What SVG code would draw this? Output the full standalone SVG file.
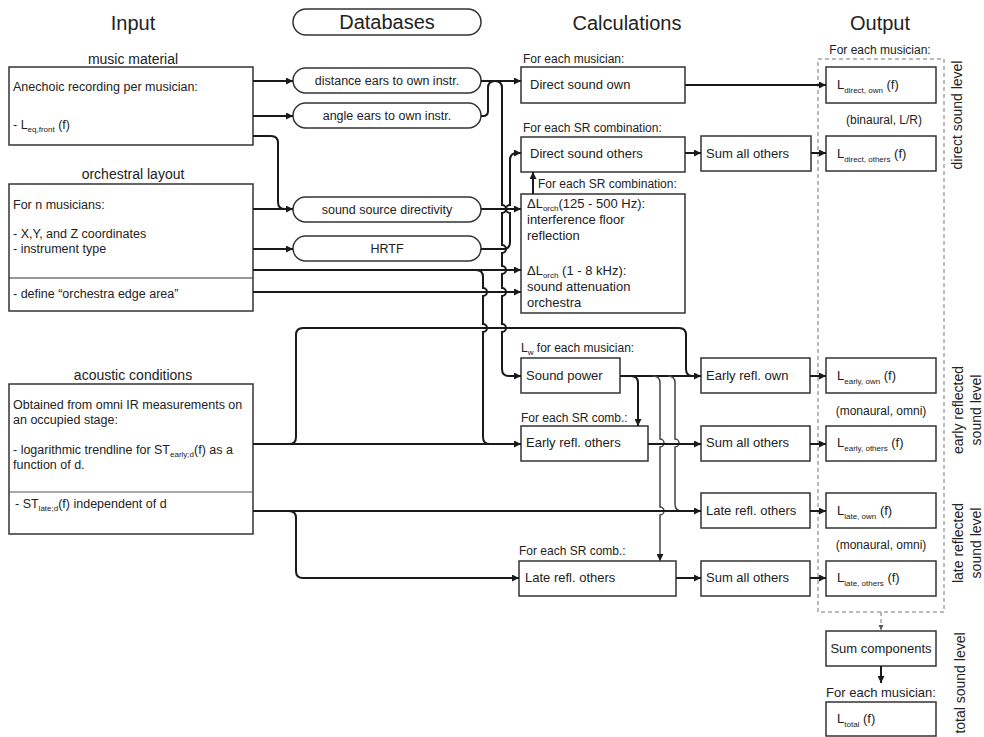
<svg xmlns="http://www.w3.org/2000/svg" width="984" height="737" viewBox="0 0 984 737">
<defs>
<marker id="ah" viewBox="0 0 10 10" refX="10" refY="5" markerWidth="7" markerHeight="7" markerUnits="userSpaceOnUse" orient="auto"><path d="M0,0L10,5L0,10z" fill="#1a1a1a"/></marker>
<marker id="ahs" viewBox="0 0 10 10" refX="10" refY="5" markerWidth="5" markerHeight="5" markerUnits="userSpaceOnUse" orient="auto"><path d="M0,0L10,5L0,10z" fill="#555"/></marker>
<style>
.t{font-family:"Liberation Sans",Arial,sans-serif;font-size:12px;fill:#222}
.ti{font-size:12.5px}
.tc{font-size:13px}
.h{font-size:20px;text-anchor:middle}
.s{font-size:14px;text-anchor:middle}
.m{text-anchor:middle}
.sub{font-size:8px}
.b{fill:#fff;stroke:#333;stroke-width:1.5}
.c{fill:none;stroke:#1a1a1a;stroke-width:2}
.g{fill:none;stroke:#444;stroke-width:1.5}
.a{marker-end:url(#ah)}
.d{fill:none;stroke:#777;stroke-width:1;stroke-dasharray:4 3}
</style>
</defs>
<rect width="984" height="737" fill="#fff"/>

<g id="headers">
<text class="t h" x="133" y="30">Input</text>
<rect x="293" y="9" width="188" height="26" rx="13" fill="#fff" stroke="#333" stroke-width="1.5"/>
<text class="t h" x="387" y="29">Databases</text>
<text class="t h" x="627" y="30">Calculations</text>
<text class="t h" x="880" y="30">Output</text>
</g>

<rect id="output-group" class="d" x="818" y="59" width="126" height="553"/>

<g id="input-music">
<text class="t s" x="133" y="64">music material</text>
<rect class="b" x="9" y="67" width="244" height="78"/>
<text class="t ti" x="13" y="91">Anechoic recording per musician:</text>
<text class="t ti" x="13" y="129">- L<tspan class="sub" dy="3">eq,front</tspan><tspan dy="-3"> (f)</tspan></text>
</g>

<g id="input-layout">
<text class="t s" x="133" y="179">orchestral layout</text>
<rect class="b" x="9" y="184" width="244" height="127"/>
<line x1="9" y1="278" x2="253" y2="278" stroke="#333" stroke-width="1.2"/>
<text class="t ti" x="13" y="209">For n musicians:</text>
<text class="t ti" x="13" y="238">- X,Y, and Z coordinates</text>
<text class="t ti" x="13" y="253">- instrument type</text>
<text class="t ti" x="13" y="298">- define “orchestra edge area”</text>
</g>

<g id="input-acoustic">
<text class="t s" x="133" y="380">acoustic conditions</text>
<rect class="b" x="9" y="384" width="244" height="150"/>
<line x1="9" y1="492" x2="253" y2="492" stroke="#555" stroke-width="1"/>
<text class="t ti" x="13" y="409">Obtained from omni IR measurements on</text>
<text class="t ti" x="13" y="424">an occupied stage:</text>
<text class="t ti" x="13" y="454">- logarithmic trendline for ST<tspan class="sub" dy="3">early;d</tspan><tspan dy="-3">(f) as a</tspan></text>
<text class="t ti" x="13" y="469">function of d.</text>
<text class="t ti" x="15" y="508">- ST<tspan class="sub" dy="3">late;d</tspan><tspan dy="-3">(f) independent of d</tspan></text>
</g>

<g id="db-distance"><rect class="b" x="293" y="68" width="188" height="25" rx="12.5"/><text class="t m" style="font-size:12.5px" x="387" y="85">distance ears to own instr.</text></g>
<g id="db-angle"><rect class="b" x="293" y="103" width="188" height="25" rx="12.5"/><text class="t m" style="font-size:12.5px" x="387" y="120">angle ears to own instr.</text></g>
<g id="db-directivity"><rect class="b" x="293" y="197" width="188" height="25" rx="12.5"/><text class="t m" style="font-size:12.5px" x="387" y="214">sound source directivity</text></g>
<g id="db-hrtf"><rect class="b" x="293" y="236" width="188" height="25" rx="12.5"/><text class="t m" style="font-size:12.5px" x="387" y="253">HRTF</text></g>

<g id="calc-direct-own">
<text class="t" x="523" y="63">For each musician:</text>
<rect class="b" x="521" y="67" width="164" height="36"/>
<text class="t tc" x="530" y="89">Direct sound own</text>
</g>
<g id="calc-direct-others">
<text class="t" x="523" y="132">For each SR combination:</text>
<rect class="b" x="521" y="137" width="164" height="35"/>
<text class="t tc" x="530" y="158">Direct sound others</text>
</g>
<g id="calc-deltaL">
<text class="t" x="538" y="188">For each SR combination:</text>
<rect class="b" x="521" y="194" width="164" height="119"/>
<text class="t tc" x="527" y="208">ΔL<tspan class="sub" dy="3">orch</tspan><tspan dy="-3">(125 - 500 Hz):</tspan></text>
<text class="t tc" x="527" y="224">interference floor</text>
<text class="t tc" x="527" y="240">reflection</text>
<text class="t tc" x="527" y="275">ΔL<tspan class="sub" dy="3">orch</tspan><tspan dy="-3"> (1 - 8 kHz):</tspan></text>
<text class="t tc" x="527" y="291">sound attenuation</text>
<text class="t tc" x="527" y="307">orchestra</text>
</g>
<g id="calc-sound-power">
<text class="t" x="521" y="352">L<tspan class="sub" dy="3">w</tspan><tspan dy="-3"> for each musician:</tspan></text>
<rect class="b" x="521" y="358" width="99" height="35"/>
<text class="t tc" x="526" y="380">Sound power</text>
</g>
<g id="calc-early-others">
<text class="t" x="521" y="422">For each SR comb.:</text>
<rect class="b" x="521" y="426" width="127" height="35"/>
<text class="t tc" x="526" y="447">Early refl. others</text>
</g>
<g id="calc-late-others">
<text class="t" x="519" y="555">For each SR comb.:</text>
<rect class="b" x="519" y="561" width="157" height="35"/>
<text class="t tc" x="525" y="582">Late refl. others</text>
</g>

<g id="sum-direct"><rect class="b" x="701" y="136" width="110" height="35"/><text class="t tc" x="706" y="158">Sum all others</text></g>
<g id="early-own"><rect class="b" x="701" y="358" width="109" height="35"/><text class="t tc" x="706" y="380">Early refl. own</text></g>
<g id="sum-early"><rect class="b" x="701" y="426" width="109" height="35"/><text class="t tc" x="706" y="447">Sum all others</text></g>
<g id="late-own"><rect class="b" x="701" y="493" width="109" height="35"/><text class="t tc" x="706" y="515">Late refl. others</text></g>
<g id="sum-late"><rect class="b" x="701" y="561" width="109" height="35"/><text class="t tc" x="706" y="582">Sum all others</text></g>

<g id="out-direct-own">
<text class="t m" x="880" y="54">For each musician:</text>
<rect class="b" x="826" y="67" width="110" height="36"/>
<text class="t tc" x="837" y="89">L<tspan class="sub" dy="4">direct, own</tspan><tspan dy="-4"> (f)</tspan></text>
</g>
<text class="t m" x="884" y="124">(binaural, L/R)</text>
<g id="out-direct-others">
<rect class="b" x="826" y="136" width="110" height="35"/>
<text class="t tc" x="837" y="158">L<tspan class="sub" dy="4">direct, others</tspan><tspan dy="-4"> (f)</tspan></text>
</g>
<g id="out-early-own">
<rect class="b" x="826" y="358" width="110" height="35"/>
<text class="t tc" x="837" y="380">L<tspan class="sub" dy="4">early, own</tspan><tspan dy="-4"> (f)</tspan></text>
</g>
<text class="t m" x="881" y="415">(monaural, omni)</text>
<g id="out-early-others">
<rect class="b" x="826" y="426" width="110" height="35"/>
<text class="t tc" x="837" y="447">L<tspan class="sub" dy="4">early, others</tspan><tspan dy="-4"> (f)</tspan></text>
</g>
<g id="out-late-own">
<rect class="b" x="826" y="493" width="110" height="35"/>
<text class="t tc" x="837" y="515">L<tspan class="sub" dy="4">late, own</tspan><tspan dy="-4"> (f)</tspan></text>
</g>
<text class="t m" x="881" y="549">(monaural, omni)</text>
<g id="out-late-others">
<rect class="b" x="826" y="561" width="110" height="35"/>
<text class="t tc" x="837" y="582">L<tspan class="sub" dy="4">late, others</tspan><tspan dy="-4"> (f)</tspan></text>
</g>
<g id="sum-components">
<rect class="b" x="826" y="631" width="110" height="35"/>
<text class="t tc m" x="881" y="653">Sum components</text>
</g>
<g id="out-total">
<text class="t tc m" x="881" y="697">For each musician:</text>
<rect class="b" x="826" y="702" width="110" height="34"/>
<text class="t tc" x="837" y="723">L<tspan class="sub" dy="4">total</tspan><tspan dy="-4"> (f)</tspan></text>
</g>

<g id="side-labels" class="t" style="font-size:14px;text-anchor:middle">
<text transform="translate(962,115) rotate(-90)">direct sound level</text>
<text transform="translate(963,410) rotate(-90)">early reflected</text>
<text transform="translate(981,410) rotate(-90)">sound level</text>
<text transform="translate(963,543) rotate(-90)">late reflected</text>
<text transform="translate(981,543) rotate(-90)">sound level</text>
<text transform="translate(965,683) rotate(-90)">total sound level</text>
</g>

<g id="connectors">
<path class="c a" d="M253,81H293"/>
<path class="c a" d="M253,116H293"/>
<path class="c" d="M253,136H271Q278,136 278,143V202Q278,209 285,209H290"/>
<path class="c a" d="M253,209H293"/>
<path class="c a" d="M253,249H293"/>
<path class="c a" d="M253,270H521"/>
<path class="c a" d="M253,292H521"/>
<path class="c a" d="M481,81H521"/>
<path class="c" d="M481,116H483Q488,116 488,111V88Q488,81 495,81"/>
<path class="c a" d="M495,81Q502,81 502,88V205a4,4 0 0 1 0,8V245a4,4 0 0 1 0,8V266a4,4 0 0 1 0,8V288a4,4 0 0 1 0,8V324a4,4 0 0 1 0,8V369Q502,376 509,376H521"/>
<path class="c a" d="M481,209H521"/>
<path class="c a" d="M481,249H503Q510,249 510,242V213a4,4 0 0 1 0,-8V160Q510,153 517,153H521"/>
<path class="c" d="M476,270Q483,270 483,277V288a4,4 0 0 1 0,8V324a4,4 0 0 1 0,8V437Q483,444 490,444"/>
<path class="c a" d="M253,444H521"/>
<path class="c" d="M289,444Q296,444 296,437V335Q296,328 303,328H679Q686,328 686,335V369Q686,376 693,376H698"/>
<path class="c a" d="M620,376H701"/>
<path class="c a" d="M631,376Q638,376 638,383V426"/>
<path class="g a" d="M653,376Q660,376 660,383V439a4,4 0 0 1 0,8V507a4,4 0 0 1 0,8V561"/>
<path class="g" d="M668,376Q675,376 675,383V439a4,4 0 0 1 0,8V504Q675,511 682,511"/>
<path class="c a" d="M253,511H701"/>
<path class="c a" d="M289,511Q296,511 296,518V571Q296,578 303,578H519"/>
<path class="c a" d="M533,194V172"/>
<path class="c a" d="M685,85H826"/>
<path class="c a" d="M685,153H701"/>
<path class="c a" d="M811,153H826"/>
<path class="c a" d="M648,444H701"/>
<path class="c a" d="M676,578H701"/>
<path class="c a" d="M810,376H826"/>
<path class="c a" d="M810,444H826"/>
<path class="c a" d="M810,511H826"/>
<path class="c a" d="M810,578H826"/>
<path class="d" d="M881,612V630" style="marker-end:url(#ahs)"/>
<path class="c a" d="M881,666V683"/>
</g>
</svg>
